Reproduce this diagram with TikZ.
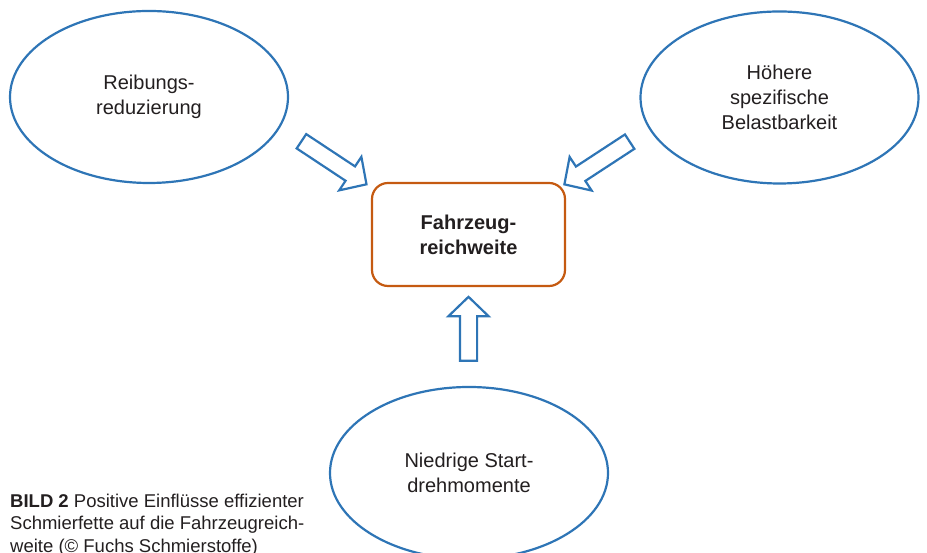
\documentclass[tikz,border=0pt]{standalone}
\usepackage{fontspec}
\setmainfont{Liberation Sans}
\usetikzlibrary{shapes.geometric,shapes.arrows}
\definecolor{ablue}{HTML}{2E75B6}
\definecolor{aorange}{HTML}{C55A11}
\definecolor{txt}{HTML}{231F20}
\tikzset{
  oval/.style={ellipse, draw=ablue, line width=2.2pt, fill=white,
    minimum width=278pt, minimum height=172pt, inner sep=0pt,
    align=center, text=txt, font=\fontsize{20}{25}\selectfont},
  goalbox/.style={rectangle, rounded corners=16pt, draw=aorange, line width=2.2pt,
    minimum width=193pt, minimum height=103pt, align=center, text=txt,
    font=\fontsize{20}{25}\selectfont\bfseries},
  blockarrow/.style={single arrow, draw=ablue, line width=2.2pt, fill=white,
    inner xsep=0pt, inner ysep=7.5pt, single arrow head extend=11.5pt,
    single arrow tip angle=92, minimum height=#1},
  caption/.style={anchor=north west, align=left, inner sep=0pt, text=txt,
    font=\fontsize{18.5}{22.5}\selectfont}
}
\begin{document}
\begin{tikzpicture}[x=1pt,y=1pt]
\useasboundingbox (0,0) rectangle (927,553);
\node[oval] (reib) at (149,456) {Reibungs-\\reduzierung};
\node[oval] (hoeh) at (779.5,455.5) {Höhere\\spezifische\\Belastbarkeit};
\node[oval] (nied) at (469,80) {Niedrige Start-\\drehmomente};
\node[goalbox] (ziel) at (468.5,318.5) {Fahrzeug-\\reichweite};
\node[blockarrow=78pt, rotate=-33.5] (a1) at (330.5,392.5) {};
\node[blockarrow=78pt, rotate=213.2] (a2) at (600.5,392.25) {};
\node[blockarrow=64pt, rotate=90] (a3) at (468.5,220) {};
\node[caption] (cap) at (10,59.5) {\textbf{BILD 2} Positive Einflüsse effizienter\\Schmierfette auf die Fahrzeugreich-\\weite (© Fuchs Schmierstoffe)};
\end{tikzpicture}
\end{document}
